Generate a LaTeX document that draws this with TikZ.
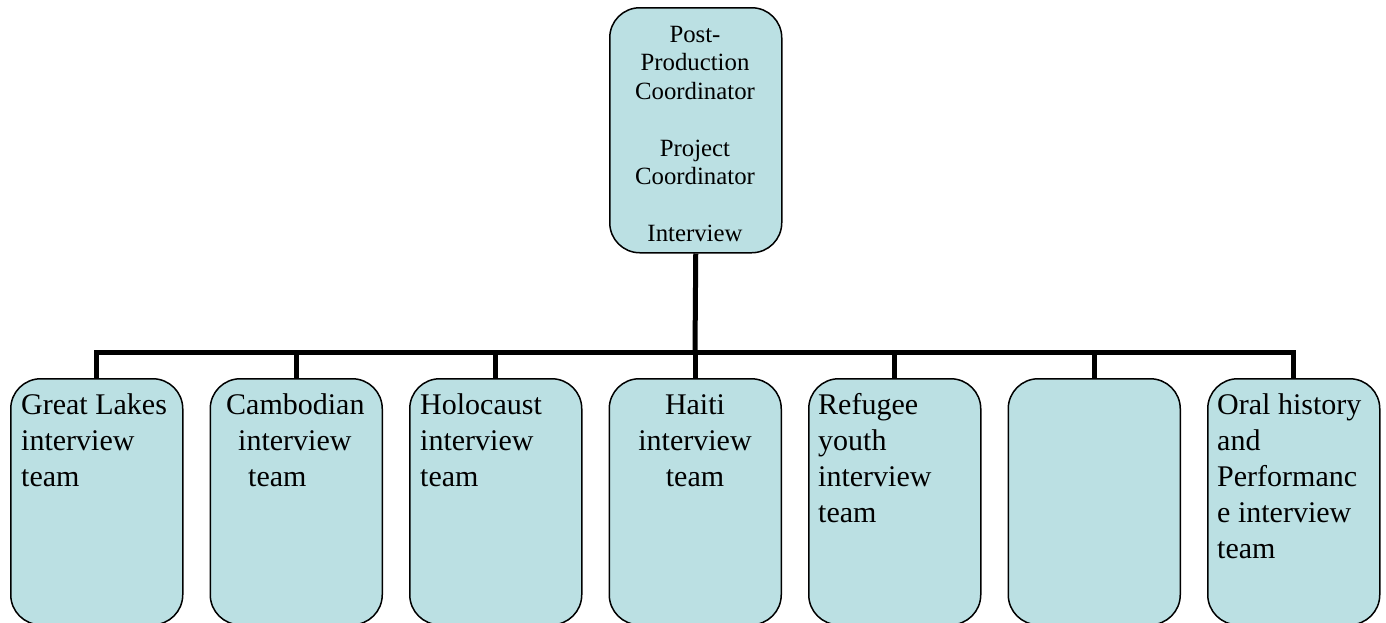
\documentclass[tikz,border=0pt]{standalone}
\usepackage{fontspec}
\setmainfont{Liberation Serif}
\definecolor{boxfill}{RGB}{187,224,227}
\begin{document}
\begin{tikzpicture}[x=1pt,y=-1pt,
  box/.style={draw=black,line width=1.5pt,fill=boxfill,rounded corners=30pt,
    minimum width=172pt,inner sep=0pt},
  teambox/.style={box,minimum height=246pt,anchor=north west},
  label/.style={inner sep=0pt,font=\fontsize{30}{36}\selectfont},
  conn/.style={line width=5pt,line join=miter}]
\useasboundingbox (0,0) rectangle (1386,622);
\clip (0,0) rectangle (1386,622);
% top box
\node[box,minimum height=245pt,anchor=north west] (top) at (609,7) {};
\node[inner sep=0pt,anchor=base,align=center,font=\fontsize{24.8}{28.5}\selectfont] (toptext) at (695,241.5)
  {Post-\\Production\\Coordinator\\[28.5pt]Project\\Coordinator\\[28.5pt]Interview};
% team boxes
\node[teambox] (b1) at (10,378) {};
\node[teambox] (b2) at (209.5,378) {};
\node[teambox] (b3) at (409,378) {};
\node[teambox] (b4) at (608.5,378) {};
\node[teambox] (b5) at (808,378) {};
\node[teambox] (b6) at (1007.5,378) {};
\node[teambox] (b7) at (1207,378) {};
% texts (anchored at the baseline of their last line)
\node[label,anchor=base west,align=left] (t1) at (21,486) {Great Lakes\\interview\\team};
\node[label,anchor=base west,align=left] (t2) at (226,486) {Cambodian\\\hspace*{12pt}interview\\\hspace*{22pt}team};
\node[label,anchor=base west,align=left] (t3) at (420,486) {Holocaust\\interview\\team};
\node[label,anchor=base,align=center] (t4) at (695,486) {Haiti\\interview\\team};
\node[label,anchor=base west,align=left] (t5) at (818,522) {Refugee\\youth\\interview\\team};
\node[label,anchor=base west,align=left] (t7) at (1217,558) {Oral history\\and\\Performanc\\e interview\\team};
% connectors
\coordinate (hub) at (695,352);
\draw[conn] (top.south) -- (hub);
\draw[conn] (b1.north) -- (b1.north |- hub) -- (b7.north |- hub) -- (b7.north);
\foreach \b in {b2,b3,b4,b5,b6} \draw[conn] (\b.north |- hub) -- (\b.north);
\end{tikzpicture}
\end{document}
